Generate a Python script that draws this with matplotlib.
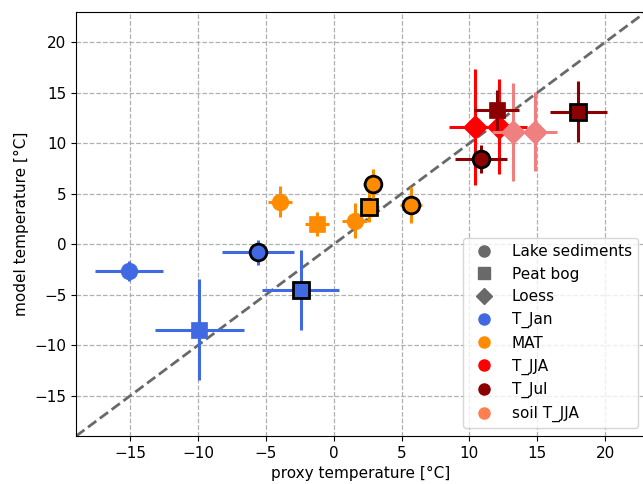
import matplotlib.pyplot as plt
from matplotlib.lines import Line2D

plt.rcParams["font.size"] = 11

# proxy vs model temperatures, one entry per site
# archive: L = lake sediments, P = peat bog, D = loess
var_names = ["T_Jan", "MAT", "T_JJA", "T_Jul", "soil T_JJA"]
var_colors = {"T_Jan": "royalblue", "MAT": "darkorange", "T_JJA": "red",
              "T_Jul": "darkred", "soil T_JJA": "lightcoral"}

site_var = ["T_Jan", "T_Jan", "T_Jan", "T_Jan",
            "MAT", "MAT", "MAT", "MAT", "MAT", "MAT",
            "T_JJA", "T_JJA",
            "soil T_JJA", "soil T_JJA",
            "T_Jul", "T_Jul", "T_Jul"]
site_archive = ["L", "L", "P", "P",
                "L", "P", "L", "P", "L", "L",
                "D", "D",
                "D", "D",
                "P", "P", "L"]
proxy_t = [-15.1, -5.62, -9.92, -2.45,
           -3.95, -1.22, 1.53, 2.63, 2.86, 5.71,
           10.42, 12.21,
           13.25, 14.85,
           12.02, 18.04, 10.84]
model_t = [-2.64, -0.79, -8.49, -4.55,
           4.22, 1.98, 2.34, 3.72, 6.0, 3.89,
           11.64, 11.64,
           11.15, 11.15,
           13.3, 13.13, 8.45]
proxy_err = [2.5, 2.65, 3.3, 2.85,
             0.9, 0.9, 0.9, 0.7, 0.7, 0.8,
             1.9, 2.0,
             1.6, 1.6,
             1.65, 2.1, 1.9]
model_err = [1.0, 1.25, 5.0, 4.0,
             1.5, 1.2, 1.7, 1.5, 1.4, 1.8,
             5.75, 4.7,
             4.85, 3.9,
             2.0, 3.0, 1.4]
# sites drawn with a black outline
outlined = [False, True, False, True,
            False, False, False, True, True, True,
            False, False,
            False, False,
            False, True, True]

markers = {"L": "o", "P": "s", "D": "D"}

fig = plt.figure(figsize=(6.43, 4.84), dpi=100)
ax = fig.add_axes([0.1185, 0.0992, 0.8857, 0.876])

ax.grid(True, linestyle="--", color="#b0b0b0", linewidth=0.9, zorder=0)
ax.set_axisbelow(True)
ax.plot([-19, 23], [-19, 23], "--", color="dimgray", linewidth=2, zorder=1)

draw_order = ["T_Jan", "MAT", "T_JJA", "soil T_JJA", "T_Jul"]
z = 2
for v in draw_order:
    for i in range(len(proxy_t)):
        if site_var[i] != v:
            continue
        c = var_colors[v]
        ax.errorbar(proxy_t[i], model_t[i], xerr=proxy_err[i], yerr=model_err[i],
                    fmt=markers[site_archive[i]], color=c, ecolor=c,
                    elinewidth=2.2, markersize=12,
                    markeredgecolor="black" if outlined[i] else c,
                    markeredgewidth=2 if outlined[i] else 0.5,
                    capsize=0, zorder=z)
        z += 1

ax.set_xlim(-19, 23)
ax.set_ylim(-19, 23)
ax.set_xticks([-15, -10, -5, 0, 5, 10, 15, 20])
ax.set_yticks([-15, -10, -5, 0, 5, 10, 15, 20])
ax.set_xlabel("proxy temperature [°C]")
ax.set_ylabel("model temperature [°C]")

handles = [
    Line2D([], [], marker="o", linestyle="", color="dimgray", markersize=8, label="Lake sediments"),
    Line2D([], [], marker="s", linestyle="", color="dimgray", markersize=8, label="Peat bog"),
    Line2D([], [], marker="D", linestyle="", color="dimgray", markersize=8, label="Loess"),
    Line2D([], [], marker="o", linestyle="", color="royalblue", markersize=8, label="T_Jan"),
    Line2D([], [], marker="o", linestyle="", color="darkorange", markersize=8, label="MAT"),
    Line2D([], [], marker="o", linestyle="", color="red", markersize=8, label="T_JJA"),
    Line2D([], [], marker="o", linestyle="", color="darkred", markersize=8, label="T_Jul"),
    Line2D([], [], marker="o", linestyle="", color="coral", markersize=8, label="soil T_JJA"),
]
leg = ax.legend(handles=handles, loc="lower right")
leg.set_zorder(50)

fig.savefig("out.png", dpi=100)
